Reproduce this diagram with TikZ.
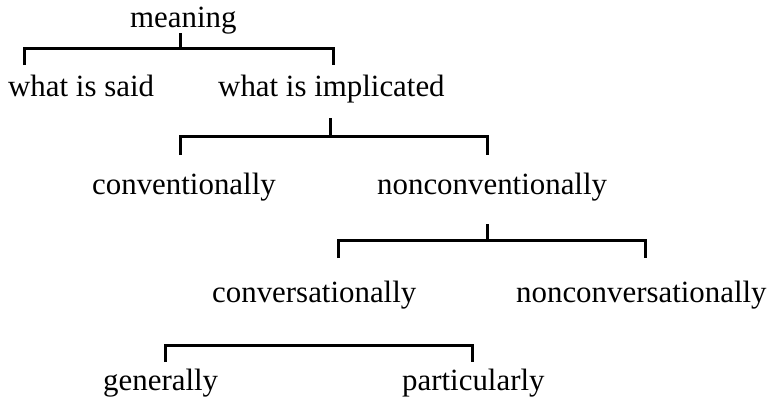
\documentclass[tikz,border=0pt]{standalone}
\usepackage{fontspec}
\setmainfont{Liberation Serif}
\begin{document}
\begin{tikzpicture}[x=1bp,y=-1bp,
  term/.style={anchor=base west,inner sep=0pt,font=\fontsize{31}{36}\selectfont},
  branch/.style={line width=3bp,line cap=butt,line join=miter}]
\useasboundingbox (0,0) rectangle (771,404);

% category labels (base west anchors)
\node[term] (meaning) at (130,27) {meaning};
\node[term] (said) at (8,96) {what is said};
\node[term] (impl) at (218,96) {what is implicated};
\node[term] (conv) at (92,194) {conventionally};
\node[term] (nonconv) at (377,194) {nonconventionally};
\node[term] (convers) at (212,302) {conversationally};
\node[term] (nonconvers) at (516,302) {nonconversationally};
\node[term] (gen) at (103,390) {generally};
\node[term] (part) at (402,390) {particularly};

% bracket points
\coordinate (m-top) at (180,33);
\coordinate (m-mid) at (180,48);
\coordinate (m-l) at (24,65);
\coordinate (m-r) at (333,65);

\coordinate (i-top) at (330,118);
\coordinate (i-mid) at (330,136);
\coordinate (i-l) at (180,155);
\coordinate (i-r) at (487,155);

\coordinate (n-top) at (487,224);
\coordinate (n-mid) at (487,240);
\coordinate (n-l) at (338,258);
\coordinate (n-r) at (645,258);

\coordinate (c-l) at (165,362);
\coordinate (c-r) at (472,362);

% brackets
\draw[branch] (m-top) -- (m-mid);
\draw[branch] (m-l) |- (m-mid) -| (m-r);
\draw[branch] (i-top) -- (i-mid);
\draw[branch] (i-l) |- (i-mid) -| (i-r);
\draw[branch] (n-top) -- (n-mid);
\draw[branch] (n-l) |- (n-mid) -| (n-r);
\draw[branch] (c-l) |- (318,345) -| (c-r);
\end{tikzpicture}
\end{document}
